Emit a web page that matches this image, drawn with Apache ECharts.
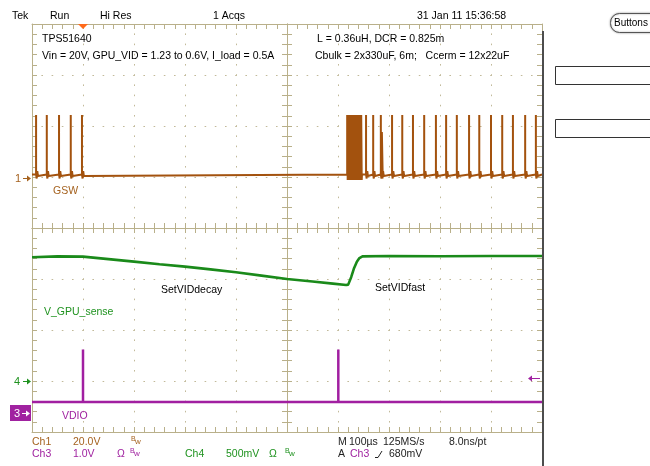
<!DOCTYPE html>
<html><head><meta charset="utf-8">
<script src="https://cdn.jsdelivr.net/npm/echarts@6/dist/echarts.min.js"></script>
<style>html,body{margin:0;padding:0;background:#fff}#c{width:650px;height:466px}</style>
</head><body><div id="c"></div>
<script>
// ---------- DATA ----------
// time axis: µs from left edge of screen (10 div x 100 µs)
const timeRange = [0, 1000];
const timePerDiv = 100;
const vertDivs = [-4, 4];

// channel scale (V/div) and ground position (div)
const ch1Scale = 20,  ch1Pos = 0.98;   // GSW
const ch4Scale = 0.5, ch4Pos = -3.0;   // V_GPU_sense
const ch3Scale = 1.0, ch3Pos = -3.63;  // VDIO

// Ch1 GSW (V)
const gswBase = 1.4;
const gswTop = 24.7;
const gswSpikeTimes = [8, 29, 53, 76, 98, 655, 669, 684, 706, 726, 747, 769, 792, 812, 833, 857, 877, 900, 922, 943, 967, 988];
const gswShortSpikeTimes = [686];
const gswShortTop = 18;
const gswRing = [-1.6, 1.3, -0.6];
const gswBurstTimes = [618, 619, 620, 621, 622, 623, 624, 625.5, 626.5, 627.5, 628.5, 629.5, 630.5, 632, 633, 634, 635, 636, 637, 638.5, 639.5, 640.5, 641.5, 642.5, 643.5, 644.5, 645.5, 646.5];
const gswBurstLow = -0.8;

// Ch4 V_GPU_sense (V)
const vgpuTimes = [0, 50, 100, 150, 200, 250, 300, 350, 400, 450, 500, 550, 590, 616, 620, 626, 631, 637, 642, 648, 700, 800, 900, 1000];
const vgpuVolts = [1.213, 1.222, 1.219, 1.195, 1.170, 1.145, 1.121, 1.094, 1.066, 1.033, 1.000, 0.975, 0.955, 0.941, 0.945, 1.02, 1.10, 1.17, 1.205, 1.222, 1.225, 1.223, 1.225, 1.225];

// Ch3 VDIO (V)
const vdioBase = 0.22;
const vdioPulseTimes = [100, 600.6];
const vdioPulseTop = 1.25;

// trigger
const triggerTime = 100;
const triggerLevel = 0.68; // V on Ch3

// ---------- BUILD ----------
const toDiv = (v, scale, pos) => pos + v / scale;

function buildGsw() {
  const ev = [];
  gswSpikeTimes.forEach(t => ev.push({t, kind: 'spike', top: gswTop}));
  gswShortSpikeTimes.forEach(t => ev.push({t, kind: 'spike', top: gswShortTop}));
  ev.push({t: gswBurstTimes[0], kind: 'burst'});
  ev.sort((a, b) => a.t - b.t);
  const pts = [[timeRange[0], gswBase]];
  ev.forEach(e => {
    if (e.kind === 'spike') {
      pts.push([e.t, gswBase], [e.t, e.top], [e.t, gswBase]);
      gswRing.forEach((r, i) => pts.push([e.t + 1.2 * (i + 1), gswBase + r]));
      pts.push([e.t + 1.2 * (gswRing.length + 1), gswBase]);
    } else {
      pts.push([gswBurstTimes[0], gswBase]);
      gswBurstTimes.forEach((t, i) => pts.push([t, i % 2 ? gswBurstLow : gswTop]));
      pts.push([gswBurstTimes[gswBurstTimes.length - 1] + 0.5, gswBase]);
    }
  });
  pts.push([timeRange[1], gswBase]);
  return pts.map(([t, v]) => [t, toDiv(v, ch1Scale, ch1Pos)]);
}
function buildVdio() {
  const pts = [[timeRange[0], vdioBase]];
  vdioPulseTimes.forEach(t => pts.push([t, vdioBase], [t, vdioPulseTop], [t, vdioBase]));
  pts.push([timeRange[1], vdioBase]);
  return pts.map(([t, v]) => [t, toDiv(v, ch3Scale, ch3Pos)]);
}
const vgpuData = vgpuTimes.map((t, i) => [t, toDiv(vgpuVolts[i], ch4Scale, ch4Pos)]);

const TAN = '#b9b08a';
const DOT = '#c2ba9a';
const FONT = '"Liberation Sans", Arial, sans-serif';

function borderAxis(extra) {
  return Object.assign({
    type: 'value', axisLabel: {show: false},
    axisLine: {show: true, onZero: false, lineStyle: {color: TAN, width: 1}},
    axisTick: {show: true, inside: true, length: 5, lineStyle: {color: TAN}},
    minorTick: {show: true, splitNumber: 5, length: 5, lineStyle: {color: TAN}},
    splitLine: {show: false}
  }, extra);
}
const dotted = {show: true, lineStyle: {color: DOT, width: 1, type: [1.6, 8.6], dashOffset: 0.8}};

const option = {
  animation: false,
  backgroundColor: '#fff',
  grid: [
    {left: 32, top: 24, width: 510, height: 408},
    {left: 32, top: 228, width: 510, height: 0},
    {left: 287, top: 24, width: 0, height: 408}
  ],
  xAxis: [
    borderAxis({gridIndex: 0, position: 'bottom', min: timeRange[0], max: timeRange[1], interval: timePerDiv, splitLine: dotted}),
    borderAxis({gridIndex: 0, position: 'top', min: timeRange[0], max: timeRange[1], interval: timePerDiv}),
    borderAxis({gridIndex: 1, position: 'bottom', min: timeRange[0], max: timeRange[1], interval: timePerDiv}),
    borderAxis({gridIndex: 1, position: 'top', min: timeRange[0], max: timeRange[1], interval: timePerDiv}),
    {gridIndex: 2, type: 'value', show: false, min: 0, max: 1}
  ],
  yAxis: [
    borderAxis({gridIndex: 0, position: 'left', min: vertDivs[0], max: vertDivs[1], interval: 1, splitLine: dotted}),
    borderAxis({gridIndex: 0, position: 'right', min: vertDivs[0], max: vertDivs[1], interval: 1}),
    {gridIndex: 1, type: 'value', show: false, min: 0, max: 1},
    borderAxis({gridIndex: 2, position: 'left', min: vertDivs[0], max: vertDivs[1], interval: 1}),
    borderAxis({gridIndex: 2, position: 'right', min: vertDivs[0], max: vertDivs[1], interval: 1})
  ],
  series: [
    {type: 'line', name: 'VDIO', xAxisIndex: 0, yAxisIndex: 0, data: buildVdio(), symbol: 'none', z: 3,
      lineStyle: {color: '#a11fa1', width: 2.5}},
    {type: 'line', name: 'V_GPU_sense', xAxisIndex: 0, yAxisIndex: 0, data: vgpuData, symbol: 'none', z: 3,
      lineStyle: {color: '#1a8a1a', width: 2.6}},
    {type: 'line', name: 'GSW', xAxisIndex: 0, yAxisIndex: 0, data: buildGsw(), symbol: 'none', z: 4,
      lineStyle: {color: '#a3520e', width: 2}}
  ]
};

const chart = echarts.init(document.getElementById('c'), null, {renderer: 'canvas'});
chart.setOption(option);

// ---------- annotations ----------
const px = (t, d) => chart.convertToPixel({gridIndex: 0}, [t, d]);
const T = (text, x, y, fill, size, extra) => Object.assign({type: 'text', x, y, z: 10,
  style: {text, fill: fill || '#000', font: (size || 10.5) + 'px ' + FONT, verticalAlign: 'middle', align: 'left'}}, extra || {});
const arrow = (x1, x2, y, color) => {
  const dir = x2 > x1 ? 1 : -1;
  return [
    {type: 'line', z: 10, shape: {x1, y1: y, x2: x2 - dir * 3, y2: y}, style: {stroke: color, lineWidth: 1}},
    {type: 'polygon', z: 10, shape: {points: [[x2 - dir * 4, y - 3], [x2, y], [x2 - dir * 4, y + 3]]}, style: {fill: color}}
  ];
};

const BROWN = '#a5621f', GREEN = '#1f921f', PURPLE = '#a022a0';
const g = [];
// header
g.push(T('Tek', 12, 16), T('Run', 50, 16), T('Hi Res', 100, 16), T('1 Acqs', 213, 16), T('31 Jan 11 15:36:58', 417, 16));
// notes
g.push(T('TPS51640', 42, 39), T('Vin = 20V, GPU_VID = 1.23 to 0.6V, I_load = 0.5A', 42, 56));
g.push(T('L = 0.36uH, DCR = 0.825m', 317, 39), T('Cbulk = 2x330uF, 6m;   Ccerm = 12x22uF', 315, 56));
// channel labels
g.push(T('GSW', 53, 191, BROWN), T('V_GPU_sense', 44, 312, GREEN), T('SetVIDdecay', 161, 290), T('SetVIDfast', 375, 288), T('VDIO', 62, 416, PURPLE));
// footer
g.push(T('Ch1', 32, 442, BROWN), T('20.0V', 73, 442, BROWN));
g.push(T('Ch3', 32, 454, PURPLE), T('1.0V', 73, 454, PURPLE), T('Ω', 117, 454, PURPLE));
g.push(T('Ch4', 185, 454, GREEN), T('500mV', 226, 454, GREEN), T('Ω', 269, 454, GREEN));
[[131, 440, BROWN], [130, 452, PURPLE], [285, 452, GREEN]].forEach(([x, y, c]) => {
  g.push(T('B', x, y - 1, c, 7), T('w', x + 4, y + 2, c, 8));
});
g.push(T('M', 338, 442, '#222'), T('100µs', 349, 442, '#222'), T('125MS/s', 383, 442, '#222'), T('8.0ns/pt', 449, 442, '#222'));
g.push(T('A', 338, 454, '#222'), T('Ch3', 350, 454, PURPLE), T('680mV', 389, 454, '#222'));
g.push({type: 'polyline', z: 10, shape: {points: [[375, 457.5], [378, 457.5], [382, 451]]}, style: {stroke: '#222', lineWidth: 1, fill: null}});

// channel ground markers
const y1 = Math.round(px(0, ch1Pos)[1]) + 0.5, y4 = Math.round(px(0, ch4Pos)[1]) + 0.5, y3 = Math.round(px(0, ch3Pos)[1]) + 0.5;
g.push(T('1', 15, y1, BROWN, 11), ...arrow(23, 31, y1, BROWN));
g.push(T('4', 14, y4, GREEN, 11), ...arrow(23, 31, y4, GREEN));
g.push({type: 'rect', z: 9, shape: {x: 10, y: y3 - 8.5, width: 21, height: 16}, style: {fill: PURPLE}});
g.push(T('3', 14, y3, '#fff', 11), ...arrow(22, 30, y3, '#fff'));
// trigger level arrow (right)
const yT = Math.round(px(0, toDiv(triggerLevel, ch3Scale, ch3Pos))[1]) + 0.5;
g.push(...arrow(540, 528, yT, PURPLE));
// trigger time marker (top)
const xT = px(triggerTime, 0)[0];
g.push({type: 'polygon', z: 10, shape: {points: [[xT - 5, 24], [xT + 5, 24], [xT, 29]]}, style: {fill: '#ff6a1a'}});
// right panel
g.push({type: 'line', z: 10, shape: {x1: 543, y1: 31, x2: 543, y2: 466}, style: {stroke: '#4d4d4d', lineWidth: 2}});
g.push({type: 'rect', z: 10, shape: {x: 610.5, y: 13.5, width: 50, height: 19, r: 9}, style: {fill: '#fff', stroke: '#555', lineWidth: 1, shadowBlur: 2, shadowColor: '#999'}});
g.push(T('Buttons', 614, 23, '#000', 10));
g.push({type: 'rect', z: 10, shape: {x: 555.5, y: 66.5, width: 100, height: 18}, style: {fill: '#fff', stroke: '#333', lineWidth: 1}});
g.push({type: 'rect', z: 10, shape: {x: 555.5, y: 119.5, width: 100, height: 18}, style: {fill: '#fff', stroke: '#333', lineWidth: 1}});

chart.setOption({graphic: {elements: g}});
</script>
</body></html>
